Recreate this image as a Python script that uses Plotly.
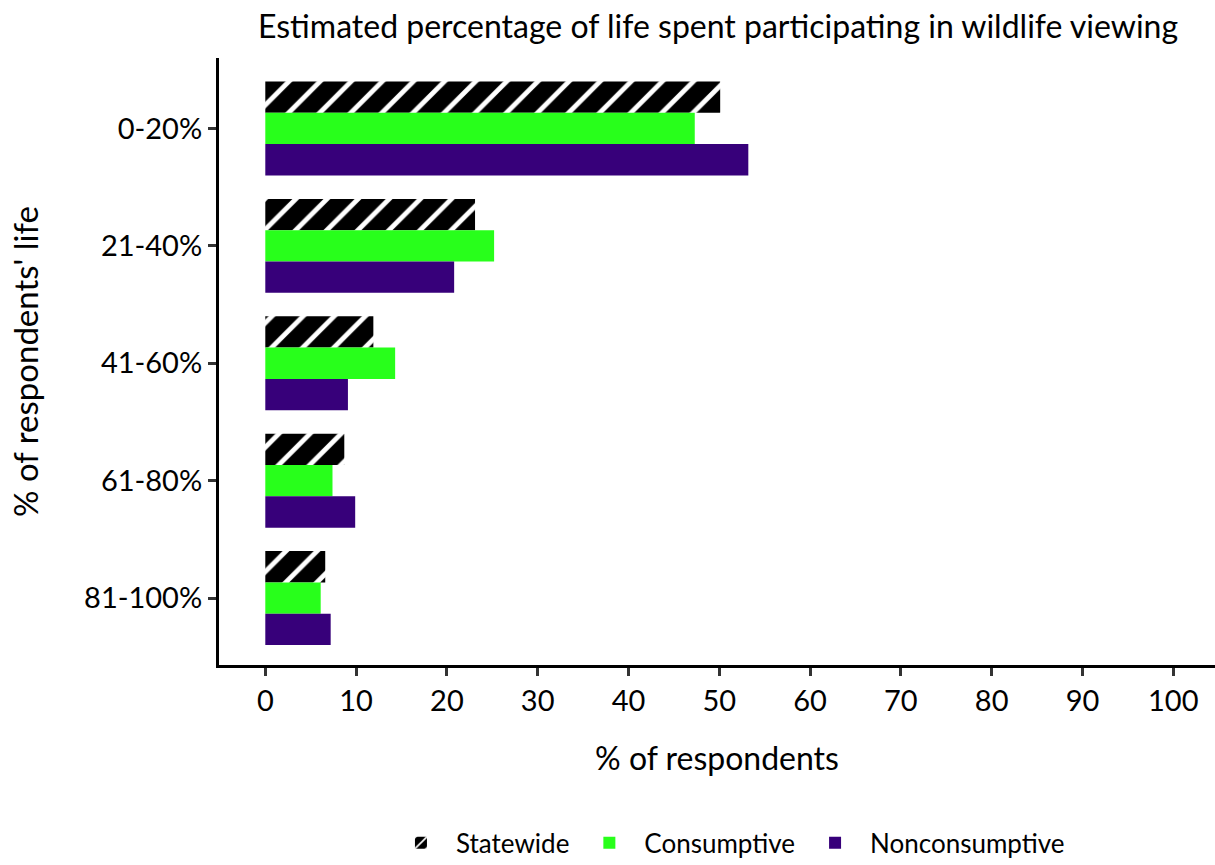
import plotly.graph_objects as go

categories = ["0-20%", "21-40%", "41-60%", "61-80%", "81-100%"]
statewide = [50.1, 23.1, 11.9, 8.7, 6.6]
consumptive = [47.3, 25.2, 14.3, 7.4, 6.1]
nonconsumptive = [53.2, 20.8, 9.1, 9.9, 7.2]
x_ticks = list(range(0, 101, 10))

FONT = "Lato"

fig = go.Figure()
fig.add_trace(go.Bar(
    y=categories, x=statewide, orientation="h", name="Statewide",
    marker=dict(color="black", line=dict(width=0),
                pattern=dict(shape="/", bgcolor="black", fgcolor="white", fgopacity=1,
                             fillmode="overlay", size=22, solidity=0.22)),
))
fig.add_trace(go.Bar(
    y=categories, x=consumptive, orientation="h", name="Consumptive",
    marker=dict(color="#28FF1B", line=dict(width=0)),
))
fig.add_trace(go.Bar(
    y=categories, x=nonconsumptive, orientation="h", name="Nonconsumptive",
    marker=dict(color="#37007A", line=dict(width=0)),
))

fig.update_layout(
    width=1215, height=865,
    paper_bgcolor="white", plot_bgcolor="white",
    margin=dict(l=219, r=0, t=58, b=200, autoexpand=False),
    barmode="group", bargap=0.2, bargroupgap=0,
    font=dict(family=FONT, size=29, color="black"),
    title=dict(text="Estimated percentage of life spent participating in wildlife viewing",
               x=0.591, xanchor="center", y=0.969, yanchor="middle",
               font=dict(family=FONT, size=32, color="black")),
    showlegend=True,
    legend=dict(orientation="h", x=0.511, xanchor="center", y=-0.293, yanchor="middle",
                font=dict(family=FONT, size=26, color="black"), traceorder="normal",
                itemwidth=60),
)
fig.update_xaxes(
    range=[-5.1, 104.6], tickvals=x_ticks, showgrid=False, zeroline=False,
    showline=True, linecolor="black", linewidth=3, automargin=False,
    ticks="outside", ticklen=8, tickwidth=3, tickcolor="#333",
    tickfont=dict(size=29),
    title=dict(text="% of respondents", font=dict(size=32), standoff=32),
)
fig.update_yaxes(
    categoryorder="array", categoryarray=categories,
    range=[4.57, -0.6], showgrid=False, zeroline=False,
    showline=True, linecolor="black", linewidth=3, automargin=False,
    ticks="outside", ticklen=8, tickwidth=3, tickcolor="#333",
    tickfont=dict(size=29),
    title=dict(text="% of respondents' life", font=dict(size=33), standoff=36),
)

fig.write_html("out.html", config={"displayModeBar": False},
               post_script="document.body.style.margin='0';")
